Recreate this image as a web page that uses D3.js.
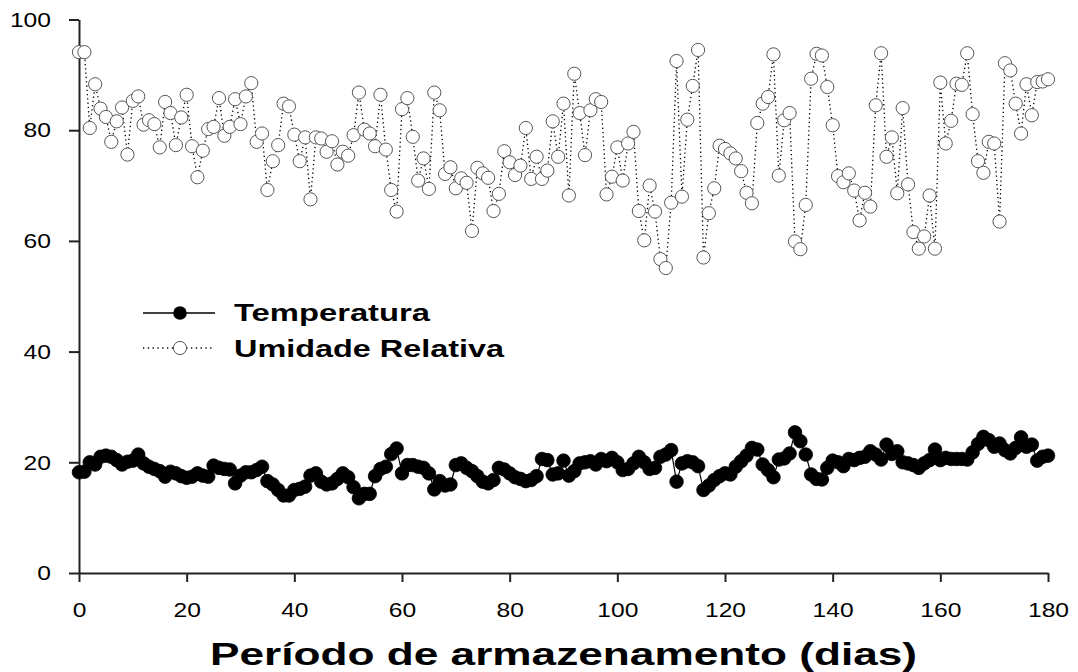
<!DOCTYPE html>
<html>
<head>
<meta charset="utf-8">
<script src="https://cdn.jsdelivr.net/npm/d3@7"></script>
<style>
html,body{margin:0;padding:0;background:#fff;}
svg{display:block;}
text{font-family:"Liberation Sans",Arial,sans-serif;fill:#000;}
</style>
</head>
<body>
<svg id="chart" width="1078" height="672"></svg>
<script>
// ---- data ----
const days = d3.range(0, 181);
const temperatura = [
18.2,18.3,20.0,19.6,21.0,21.2,21.0,20.4,19.6,20.1,
20.3,21.4,19.8,19.2,18.8,18.4,17.4,18.3,18.0,17.5,
17.2,17.4,18.0,17.6,17.4,19.4,19.0,18.8,18.7,16.2,
17.6,18.2,18.2,18.6,19.2,16.6,16.0,15.0,14.0,14.0,
15.0,15.2,15.6,17.6,18.0,16.5,16.0,16.2,17.0,18.0,
17.3,15.5,13.5,14.3,14.3,17.5,18.8,19.2,21.5,22.5,
18.0,19.5,19.5,19.2,19.0,18.0,15.1,16.6,15.8,16.0,
19.5,19.8,19.0,18.4,17.5,16.5,16.2,16.8,19.0,18.7,
18.0,17.3,17.0,16.6,16.8,17.5,20.6,20.4,17.8,18.0,
20.3,17.6,18.4,19.8,20.0,20.2,19.6,20.6,20.2,20.8,
20.0,18.6,18.8,19.8,21.0,20.0,18.8,19.0,21.0,21.4,
22.2,16.5,19.8,20.2,20.0,19.3,15.0,15.8,16.8,17.5,
18.0,17.8,19.2,20.2,21.2,22.6,22.3,19.6,18.6,17.3,
20.5,20.7,21.6,25.4,23.8,21.4,17.8,17.0,16.9,19.0,
20.3,20.0,19.3,20.6,20.4,20.8,21.0,22.0,21.4,20.5,
23.2,21.5,22.0,20.0,19.8,19.5,19.0,19.8,20.4,22.3,
20.4,20.8,20.6,20.6,20.6,20.5,21.8,23.3,24.6,24.0,
22.8,23.4,22.2,21.6,22.6,24.5,22.8,23.2,20.3,21.0,21.2
];
const umidade = [
94.1,94.1,80.4,88.3,83.9,82.4,77.9,81.6,84.1,75.6,
85.3,86.1,81.0,81.8,81.1,76.9,85.1,83.1,77.3,82.3,
86.4,77.1,71.5,76.3,80.2,80.6,85.8,79.0,80.6,85.6,
81.1,86.1,88.5,77.9,79.4,69.2,74.4,77.3,84.8,84.3,
79.2,74.4,78.7,67.5,78.7,78.5,76.1,78.0,73.8,76.1,
75.4,79.1,86.8,80.1,79.4,77.1,86.4,76.5,69.2,65.3,
83.8,85.8,78.8,70.9,74.9,69.4,86.8,83.6,72.1,73.3,
69.5,71.3,70.5,61.8,73.2,72.2,71.4,65.4,68.5,76.2,
74.2,71.9,73.6,80.4,71.2,75.2,71.2,72.7,81.6,75.2,
84.8,68.2,90.2,83.1,75.5,83.6,85.6,85.1,68.4,71.6,
76.9,70.9,77.6,79.7,65.4,60.1,70.0,65.3,56.7,55.1,
66.9,92.5,68.0,81.9,88.0,94.5,57.0,65.0,69.5,77.2,
76.6,75.8,74.9,72.6,68.7,66.8,81.3,84.8,86.0,93.7,
71.8,81.8,83.1,59.9,58.5,66.5,89.3,93.8,93.5,87.8,
80.9,71.7,70.6,72.2,69.1,63.7,68.7,66.2,84.5,93.9,
75.2,78.7,68.6,84.0,70.2,61.6,58.6,60.8,68.2,58.6,
88.6,77.6,81.7,88.4,88.2,93.9,82.9,74.4,72.3,77.9,
77.6,63.5,92.1,90.8,84.8,79.4,88.3,82.7,88.7,88.8,89.2
];
const xTicks = [0,20,40,60,80,100,120,140,160,180];
const yTicks = [0,20,40,60,80,100];
const seriesNames = ["Temperatura", "Umidade Relativa"];
const xTitle = "Período de armazenamento (dias)";

// ---- layout ----
const svg = d3.select("#chart");
const x = d3.scaleLinear().domain([0,180]).range([79,1048]);
const y = d3.scaleLinear().domain([0,100]).range([573,19.5]);

// axes
const yAxis = svg.append("g").attr("transform","translate(79,0)")
  .call(d3.axisLeft(y).tickValues(yTicks).tickSize(10).tickPadding(18).tickSizeOuter(0));
const xAxis = svg.append("g").attr("transform","translate(0,573)")
  .call(d3.axisBottom(x).tickValues(xTicks).tickSize(9).tickPadding(15).tickSizeOuter(0));
[yAxis, xAxis].forEach(g => {
  g.select(".domain").attr("stroke","#222").attr("stroke-width",2);
  g.selectAll(".tick line").attr("stroke","#222").attr("stroke-width",2);
  g.selectAll(".tick text")
    .style("font-family","'Liberation Sans',Arial,sans-serif")
    .attr("font-size",21).attr("fill","#000")
    .attr("textLength", d => String(d).length*13.7)
    .attr("lengthAdjust","spacingAndGlyphs");
});
xAxis.selectAll(".tick text").attr("dy","0.95em");

// humidity series
const line = (arr) => d3.line().x((d,i)=>x(days[i])).y(d=>y(d))(arr);
svg.append("path").attr("d", line(umidade))
  .attr("fill","none").attr("stroke","#000").attr("stroke-width",1.3)
  .attr("stroke-dasharray","1.3,3");
svg.append("g").selectAll("circle").data(umidade).join("circle")
  .attr("cx",(d,i)=>x(days[i])).attr("cy",d=>y(d)).attr("r",6.6)
  .attr("fill","#fff").attr("stroke","#555").attr("stroke-width",1);

// temperature series
svg.append("path").attr("d", line(temperatura))
  .attr("fill","none").attr("stroke","#000").attr("stroke-width",1.2);
svg.append("g").selectAll("circle").data(temperatura).join("circle")
  .attr("cx",(d,i)=>x(days[i])).attr("cy",d=>y(d)).attr("r",6.8)
  .attr("fill","#000").attr("stroke","#000").attr("stroke-width",0.8);

// legend
const lg = svg.append("g");
lg.append("line").attr("x1",143).attr("x2",215).attr("y1",313).attr("y2",313)
  .attr("stroke","#000").attr("stroke-width",1.3);
lg.append("circle").attr("cx",180).attr("cy",313).attr("r",6.8).attr("fill","#000");
lg.append("line").attr("x1",143).attr("x2",215).attr("y1",348).attr("y2",348)
  .attr("stroke","#000").attr("stroke-width",1.3).attr("stroke-dasharray","1.3,3.5");
lg.append("circle").attr("cx",180).attr("cy",348).attr("r",6.6)
  .attr("fill","#fff").attr("stroke","#555");
lg.append("text").attr("x",234).attr("y",321).text(seriesNames[0])
  .attr("font-size",23).attr("font-weight","bold")
  .attr("textLength",196).attr("lengthAdjust","spacingAndGlyphs");
lg.append("text").attr("x",234).attr("y",357).text(seriesNames[1])
  .attr("font-size",23).attr("font-weight","bold")
  .attr("textLength",270).attr("lengthAdjust","spacingAndGlyphs");

// x title
svg.append("text").attr("x",210).attr("y",665).text(xTitle)
  .attr("font-size",32).attr("font-weight","bold")
  .attr("textLength",707).attr("lengthAdjust","spacingAndGlyphs");
</script>
</body>
</html>
